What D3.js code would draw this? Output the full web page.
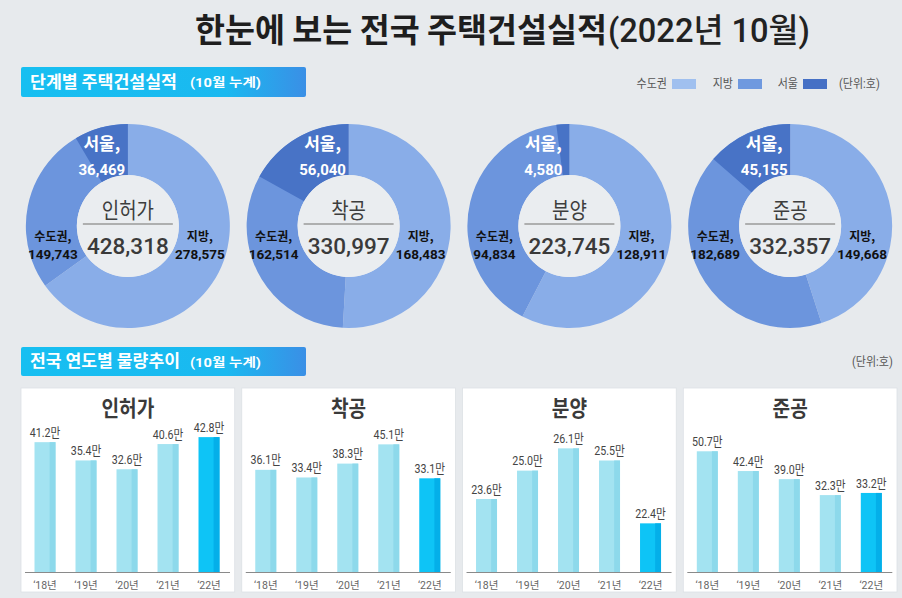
<!DOCTYPE html>
<html><head><meta charset="utf-8">
<script src="https://cdn.jsdelivr.net/npm/d3@7"></script>
<style>html,body{margin:0;padding:0;background:#e7eaed;} svg{display:block}</style>
</head><body><svg id="c" width="902" height="598"></svg>
<script>
// ---------- data ----------
const stages = ['인허가', '착공', '분양', '준공'];
const totals = [428318, 330997, 223745, 332357];
const regional = [278575, 168483, 128911, 149668];   // 지방
const capital = [149743, 162514, 94834, 182689];     // 수도권
const seoul = [36469, 56040, 4580, 45155];           // 서울 (수도권 중)
const years = ['‘18년', '‘19년', '‘20년', '‘21년', '‘22년'];
const permits = [41.2, 35.4, 32.6, 40.6, 42.8];
const starts = [36.1, 33.4, 38.3, 45.1, 33.1];
const sales = [23.6, 25.0, 26.1, 25.5, 22.4];
const completions = [50.7, 42.4, 39.0, 32.3, 33.2];
const yearly = [permits, starts, sales, completions];
const axisMin = [0, 0, 20, 0];
const axisMax = [47.6, 53, 27.4, 63];
const legendLabels = ['수도권', '지방', '서울'];
const title1 = '한눈에 보는 전국 주택건설실적';
const title2 = '(2022년 10월)';
const section1 = '단계별 주택건설실적';
const section2 = '전국 연도별 물량추이';
const sectionNote = '(10월 누계)';
const unitNote = '(단위:호)';

// ---------- setup ----------
const svg = d3.select('#c');
const KR = "'Noto Sans CJK KR', sans-serif";
const MIX = "Roboto, 'Noto Sans CJK KR', sans-serif";
svg.append('rect').attr('width', 902).attr('height', 598).attr('fill', '#e7eaed');

function txt(g, x, y, s, o) {
  o = o || {};
  const t = g.append('text')
    .attr('transform', `translate(${x},${y}) scale(${o.sx || 1},1)`)
    .attr('text-anchor', o.anchor || 'middle')
    .attr('dy', '0.35em')
    .style('font-family', o.family || MIX)
    .style('font-size', (o.size || 12) + 'px')
    .style('font-weight', o.weight || 'normal')
    .attr('fill', o.fill || '#333')
    .text(s);
  if (o.len) t.attr('textLength', o.len).attr('lengthAdjust', 'spacingAndGlyphs');
  return t;
}

// title
txt(svg, 195, 30, title1, {anchor: 'start', family: KR, size: 33, weight: 'bold', fill: '#1e1e1e', len: 412});
txt(svg, 608, 30, title2, {anchor: 'start', size: 33, weight: 500, fill: '#222', len: 202});

// gradient for section headers
const defs = svg.append('defs');
const grad = defs.append('linearGradient').attr('id', 'hdr');
grad.append('stop').attr('offset', '0%').attr('stop-color', '#17bff1');
grad.append('stop').attr('offset', '72%').attr('stop-color', '#1ab9f0');
grad.append('stop').attr('offset', '100%').attr('stop-color', '#3a8fe6');

function header(y, h, label, len1) {
  svg.append('rect').attr('x', 21).attr('y', y).attr('width', 285).attr('height', h)
    .attr('rx', 2).attr('fill', 'url(#hdr)');
  txt(svg, 30, y + h / 2, label, {anchor: 'start', family: KR, size: 16.5, weight: 'bold', fill: '#fff', len: len1});
  txt(svg, 190, y + h / 2 + 1, sectionNote, {anchor: 'start', size: 12.5, weight: 'bold', fill: '#fff', len: 71});
}
header(67, 30, section1, 147);
header(347, 29, section2, 150);

// legend
const legendColors = ['#a0c0ef', '#6f99df', '#4570c5'];
const legendEnds = [667, 733, 798];
legendLabels.forEach((l, i) => {
  txt(svg, legendEnds[i], 84, l, {anchor: 'end', family: KR, size: 12, fill: '#555', sx: 0.92});
  svg.append('rect').attr('x', legendEnds[i] + 5).attr('y', 79).attr('width', 24).attr('height', 10).attr('fill', legendColors[i]);
});
txt(svg, 839, 84, unitNote, {anchor: 'start', size: 12, fill: '#555', sx: 0.92});
txt(svg, 852, 362, unitNote, {anchor: 'start', size: 12, fill: '#555', sx: 0.92});

// panel positions
const px = d3.scaleBand().domain(stages).range([21, 897]).paddingInner(0.032);
const bw = px.bandwidth();

// ---------- donuts ----------
const rOut = 102, rIn = 51, cy = 226;
const donutColors = {regional: '#89ade8', capital: '#6c95dd', seoul: '#4873c6'};
const arc = d3.arc().innerRadius(rIn).outerRadius(rOut);
const fmt = d3.format(',');

stages.forEach((s, i) => {
  const cx = px(s) + bw / 2;
  const g = svg.append('g').attr('transform', `translate(${cx},${cy})`);
  const pie = d3.pie().sort(null).value(d => d.v)([
    {k: 'regional', v: regional[i]},
    {k: 'capital', v: capital[i]}
  ]);
  g.selectAll('path.s').data(pie).join('path').attr('class', 's')
    .attr('d', arc).attr('fill', d => donutColors[d.data.k]);
  const ang = d3.scaleLinear().domain([0, totals[i]]).range([0, 2 * Math.PI]);
  g.append('path').attr('d', arc({startAngle: 2 * Math.PI - ang(seoul[i]), endAngle: 2 * Math.PI}))
    .attr('fill', donutColors.seoul);
  g.append('circle').attr('r', rIn).attr('fill', '#eaedf0');
  // center
  txt(g, 0, -16, s, {family: KR, size: 22, fill: '#3d3d3d', sx: 0.86});
  g.append('line').attr('x1', -45).attr('x2', 45).attr('y1', -2).attr('y2', -2)
    .attr('stroke', '#9a9a9a').attr('stroke-width', 1.5);
  txt(g, 0, 20, fmt(totals[i]), {size: 22.5, weight: 500, fill: '#3a3a3a'});
  // labels
  txt(g, -26, -82, '서울,', {family: KR, size: 17, weight: 'bold', fill: '#fff'});
  txt(g, -26, -56, fmt(seoul[i]), {size: 15, weight: 'bold', fill: '#fff'});
  txt(g, -75, 11, '수도권,', {family: KR, size: 12, weight: 'bold', fill: '#111'});
  txt(g, -75, 28, fmt(capital[i]), {size: 13.5, weight: 'bold', fill: '#111'});
  txt(g, 72, 11, '지방,', {family: KR, size: 12, weight: 'bold', fill: '#111'});
  txt(g, 72, 28, fmt(regional[i]), {size: 13.5, weight: 'bold', fill: '#111'});
});

// ---------- bar panels ----------
const yBase = 572, yTop = 422;
stages.forEach((s, i) => {
  const x0 = px(s);
  const g = svg.append('g');
  g.append('rect').attr('x', x0).attr('y', 388).attr('width', bw).attr('height', 204)
    .attr('fill', '#fff').attr('stroke', '#dde1e5').attr('stroke-width', 0.8);
  txt(g, x0 + bw / 2, 408, s, {family: KR, size: 22, weight: 'bold', fill: '#3a3a3a', sx: 0.87});
  const xb = d3.scaleBand().domain(years).range([x0 + 3.5, x0 + 208.5]).paddingInner(0.488).paddingOuter(0.244);
  const y = d3.scaleLinear().domain([axisMin[i], axisMax[i]]).range([yBase, yTop]);
  const vals = yearly[i];
  const bars = g.selectAll('g.bar').data(vals).join('g').attr('class', 'bar');
  bars.append('rect').attr('x', (d, j) => xb(years[j])).attr('y', d => y(d))
    .attr('width', xb.bandwidth()).attr('height', d => yBase - y(d))
    .attr('fill', (d, j) => j === 4 ? '#0ec4f6' : '#a3e3f1');
  bars.append('rect').attr('x', (d, j) => xb(years[j]) + xb.bandwidth() * 0.72).attr('y', d => y(d))
    .attr('width', xb.bandwidth() * 0.28).attr('height', d => yBase - y(d))
    .attr('fill', (d, j) => j === 4 ? '#04afe9' : '#8dd9eb');
  vals.forEach((d, j) => {
    txt(g, xb(years[j]) + xb.bandwidth() / 2, y(d) - 10, d.toFixed(1) + '만', {size: 13, fill: '#444', sx: 0.82});
  });
  const ax = g.append('g').attr('transform', `translate(0,${yBase})`)
    .call(d3.axisBottom(xb).tickSize(0).tickSizeOuter(0).tickPadding(10));
  ax.select('.domain').attr('stroke', '#8a8a8a');
  ax.selectAll('text').style('font-family', MIX).style('font-size', '10.5px').attr('fill', '#666');
});
</script>
</body></html>
